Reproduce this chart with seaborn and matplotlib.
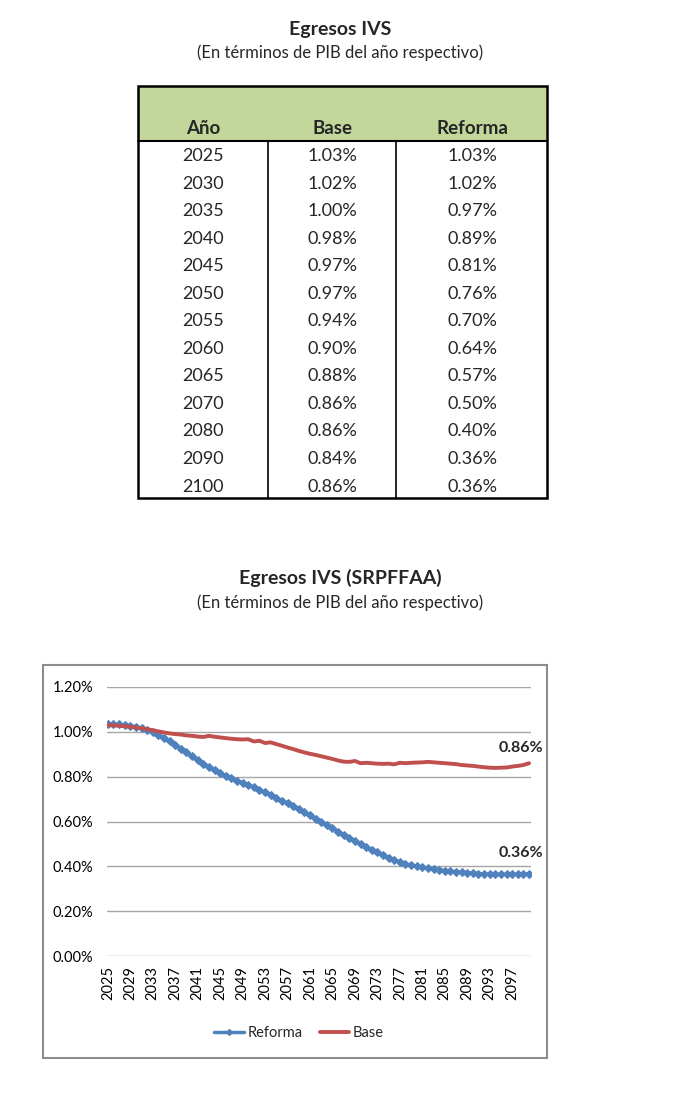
import matplotlib
matplotlib.use("Agg")
import matplotlib.pyplot as plt
import seaborn as sns
import pandas as pd
from matplotlib.patches import Rectangle
from matplotlib.lines import Line2D
from matplotlib.ticker import FuncFormatter

# ---------------- data ----------------
table_years = ["2025", "2030", "2035", "2040", "2045", "2050", "2055", "2060",
               "2065", "2070", "2080", "2090", "2100"]
table_base = ["1.03%", "1.02%", "1.00%", "0.98%", "0.97%", "0.97%", "0.94%", "0.90%",
              "0.88%", "0.86%", "0.86%", "0.84%", "0.86%"]
table_reforma = ["1.03%", "1.02%", "0.97%", "0.89%", "0.81%", "0.76%", "0.70%", "0.64%",
                 "0.57%", "0.50%", "0.40%", "0.36%", "0.36%"]
table_headers = ["Año", "Base", "Reforma"]

years = list(range(2025, 2101))
base = [1.030, 1.029, 1.027, 1.025, 1.022, 1.020, 1.016, 1.012, 1.007, 1.002,
        0.997, 0.993, 0.990, 0.988, 0.984, 0.982, 0.979, 0.977, 0.982, 0.978,
        0.975, 0.972, 0.969, 0.967, 0.966, 0.967, 0.957, 0.960, 0.950, 0.953,
        0.945, 0.938, 0.930, 0.923, 0.915, 0.908, 0.902, 0.897, 0.891, 0.885,
        0.879, 0.872, 0.867, 0.866, 0.870, 0.860, 0.862, 0.860, 0.858, 0.857,
        0.858, 0.855, 0.862, 0.860, 0.862, 0.863, 0.864, 0.866, 0.864, 0.862,
        0.860, 0.858, 0.856, 0.852, 0.850, 0.848, 0.845, 0.842, 0.840, 0.839,
        0.840, 0.841, 0.845, 0.848, 0.852, 0.860]
reforma = [1.035, 1.034, 1.033, 1.031, 1.028, 1.022, 1.016, 1.008, 0.998, 0.986,
           0.972, 0.957, 0.941, 0.925, 0.908, 0.891, 0.874, 0.858, 0.844, 0.830,
           0.815, 0.803, 0.792, 0.782, 0.773, 0.762, 0.753, 0.741, 0.730, 0.718,
           0.705, 0.693, 0.681, 0.668, 0.655, 0.641, 0.627, 0.613, 0.598, 0.584,
           0.570, 0.555, 0.541, 0.527, 0.513, 0.500, 0.487, 0.474, 0.462, 0.450,
           0.438, 0.428, 0.419, 0.411, 0.405, 0.400, 0.395, 0.391, 0.387, 0.384,
           0.381, 0.378, 0.376, 0.374, 0.372, 0.369, 0.367, 0.366, 0.365, 0.364,
           0.364, 0.364, 0.364, 0.365, 0.365, 0.367]
xtick_years = list(range(2025, 2100, 4))
yticks = [0.0, 0.2, 0.4, 0.6, 0.8, 1.0, 1.2]
end_labels = ["0.86%", "0.36%"]

df = pd.DataFrame({"Año": years, "Base": base, "Reforma": reforma})

# ---------------- figure ----------------
sns.set_theme(style="white")
plt.rcParams["font.family"] = ["Lato", "DejaVu Sans"]

W, H = 680, 1098
fig = plt.figure(figsize=(W / 100, H / 100), dpi=100)
fig.patch.set_facecolor("white")


def fx(px):
    return px / W


def fy(py):
    return 1 - py / H


# overlay axes in pixel coords for the table
ov = fig.add_axes([0, 0, 1, 1], zorder=0)
ov.set_xlim(0, W)
ov.set_ylim(H, 0)
ov.axis("off")

ov.text(340, 30, "Egresos IVS", ha="center", va="center", fontsize=14, fontweight="bold")
ov.text(340, 53, "(En términos de PIB del año respectivo)", ha="center", va="center", fontsize=12)

tx0, tx1 = 138, 547
ty0, thead, ty1 = 86, 141, 498
ov.add_patch(Rectangle((tx0, ty0), tx1 - tx0, thead - ty0, facecolor="#C4D79B", edgecolor="none"))
ov.add_patch(Rectangle((tx0, ty0), tx1 - tx0, ty1 - ty0, facecolor="none", edgecolor="black", lw=1.8))
ov.plot([tx0, tx1], [thead, thead], color="black", lw=1.5)
for cx in (268, 396):
    ov.plot([cx, cx], [thead, ty1], color="black", lw=1.2)

col_x = [203, 332, 472]
for x, h in zip(col_x, table_headers):
    ov.text(x, 128, h, ha="center", va="center", fontsize=13.5, fontweight="bold")
row_y0, row_dy = 156, 27.55
for i, (yr, b, r) in enumerate(zip(table_years, table_base, table_reforma)):
    yy = row_y0 + i * row_dy
    for x, s in zip(col_x, (yr, b, r)):
        ov.text(x, yy, s, ha="center", va="center", fontsize=13)

ov.text(340, 578, "Egresos IVS (SRPFFAA)", ha="center", va="center", fontsize=14, fontweight="bold")
ov.text(340, 603, "(En términos de PIB del año respectivo)", ha="center", va="center", fontsize=12)

# chart border
ov.add_patch(Rectangle((43, 665), 547 - 43, 1058 - 665, facecolor="none", edgecolor="#8C8C8C", lw=1.5))

# ---------------- line chart ----------------
ax = fig.add_axes([fx(107), fy(956), fx(531 - 107), (956 - 687) / H], zorder=2)
ax.patch.set_alpha(0)
blue, red = "#4F81BD", "#C0504D"
sns.lineplot(data=df, x="Año", y="Reforma", ax=ax, color=blue, lw=2.5,
             marker="D", markersize=4, markeredgecolor=blue, label="Reforma")
sns.lineplot(data=df, x="Año", y="Base", ax=ax, color=red, lw=2.8, label="Base")

ax.set_xlim(2024.85, 2100.35)
ax.set_ylim(0, 1.2)
ax.set_yticks(yticks)
ax.yaxis.set_major_formatter(FuncFormatter(lambda v, p: f"{v:.2f}%"))
ax.set_xticks(xtick_years)
ax.set_xticklabels([str(y) for y in xtick_years], rotation=90)
ax.tick_params(axis="both", length=0, labelsize=10.5, colors="black")
ax.tick_params(axis="y", pad=10)
ax.tick_params(axis="x", pad=7)
ax.grid(axis="y", color="#A6A6A6", lw=1)
ax.set_axisbelow(True)
for s in ax.spines.values():
    s.set_visible(False)
ax.set_xlabel("")
ax.set_ylabel("")
ax.get_legend().remove()

ax.annotate(end_labels[0], (years[-1], base[-1]), xytext=(-6, 11), textcoords="offset points",
            ha="center", va="center", fontsize=11.5, fontweight="bold")
ax.annotate(end_labels[1], (years[-1], reforma[-1]), xytext=(-6, 15), textcoords="offset points",
            ha="center", va="center", fontsize=11.5, fontweight="bold")

handles = [Line2D([0, 0.5, 1], [0, 0, 0], color=blue, lw=2.5, marker="D", markersize=3,
                  markevery=[1], markeredgecolor=blue),
           Line2D([], [], color=red, lw=2.8)]
fig.legend(handles, ["Reforma", "Base"], loc="center", bbox_to_anchor=(fx(299), fy(1033)),
           ncol=2, frameon=False, fontsize=10.5, handlelength=2.0, handletextpad=0.25,
           columnspacing=1.2)

fig.savefig("out.png", dpi=100, facecolor="white")
